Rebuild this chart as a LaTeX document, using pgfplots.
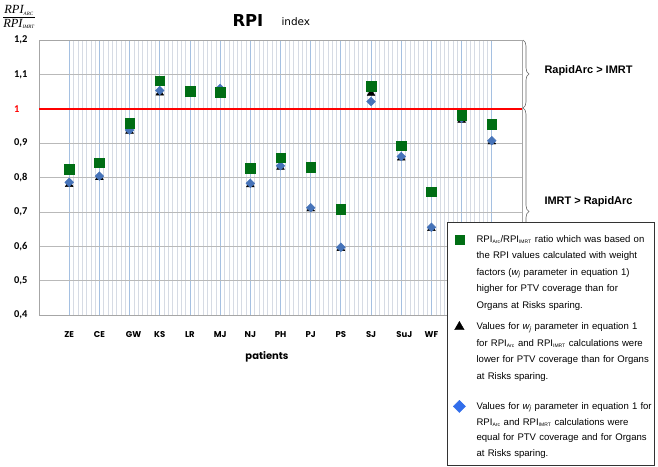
\documentclass[border=0pt]{standalone}
\usepackage{pgfplots}
\pgfplotsset{compat=1.18}
\usepackage{fontspec}
\setmainfont{Liberation Sans}
\newfontfamily\calib{Carlito}
\newfontfamily\gothic{Poppins}
\newfontfamily\tnr{Liberation Serif}
\newfontfamily\dejavu{DejaVu Sans}
\usetikzlibrary{decorations.pathreplacing}
\definecolor{sqgreen}{RGB}{0,110,20}
\definecolor{diablue}{RGB}{70,115,185}
\definecolor{legblue}{RGB}{50,110,235}
\definecolor{majgrid}{RGB}{165,192,225}
\definecolor{mingrid}{RGB}{214,219,228}
\definecolor{hgrid}{RGB}{185,185,185}
\newcommand{\sub}[1]{\textsubscript{\fontsize{5}{5}\selectfont #1}}
\newcommand{\wj}{\textit{w\textsubscript{j}}}
\newcommand{\st}[1]{\rule{0pt}{#1bp}}

\pgfplotstableread{
x  sq     tri    dia
1  0.825  0.780  0.786
2  0.843  0.800  0.804
3  0.958  0.935  0.938
4  1.082  1.046  1.053
5  1.051  1.045  1.049
6  1.049  1.056  1.059
7  0.827  0.779  0.783
8  0.858  0.830  0.834
9  0.830  0.709  0.712
10 0.707  0.594  0.597
11 1.066  1.045  1.021
12 0.892  0.857  0.861
13 0.759  0.652  0.655
14 0.982  0.967  0.972
15 0.955  0.904  0.907
}\rpidata

\begin{document}
\begin{tikzpicture}
\useasboundingbox (0,0) rectangle (658bp,467bp);
% braces and side texts
\draw[decorate, decoration={brace, amplitude=6bp}, black!60, line width=0.6bp] (523bp,427bp) -- (523bp,359bp);
\draw[decorate, decoration={brace, amplitude=6bp}, black!60, line width=0.6bp] (523bp,359bp) -- (523bp,152bp);
\node[anchor=west, font=\bfseries\fontsize{11}{13}\selectfont] at (541bp,396bp) {RapidArc > IMRT};
\node[anchor=west, font=\bfseries\fontsize{11}{13}\selectfont] at (541bp,265bp) {IMRT > RapidArc};
% title
\node[anchor=base west, font=\dejavu\bfseries\fontsize{16.5}{18}\selectfont] at (229bp,440bp) {RPI};
\node[anchor=base west, font=\dejavu\fontsize{10.5}{12}\selectfont] at (278bp,441bp) {index};
% y label
\node at (19bp,450bp) {$\displaystyle\frac{\hbox{\tnr\itshape\fontsize{12.5}{13}\selectfont RPI\sub{ARC}}}{\hbox{\tnr\itshape\fontsize{12.5}{13}\selectfont RPI\sub{IMRT}}}$};

\begin{axis}[
  at={(39bp,152bp)}, anchor=south west,
  scale only axis, width=483bp, height=275bp,
  xmin=0, xmax=16, ymin=0.4, ymax=1.2,
  xtick={1,...,15},
  xticklabels={ZE,CE,{\hspace*{8bp}GW},KS,LR,MJ,NJ,PH,PJ,PS,SJ,{\hspace*{6bp}SuJ},WF,{},{}},
  minor x tick num=6,
  ytick={0.4,0.5,0.6,0.7,0.8,0.9,1.0,1.1,1.2},
  yticklabels={{0,4},{0,5},{0,6},{0,7},{0,8},{0,9},{\textcolor{red}{1}\hphantom{,0}},{1,1},{1,2}},
  major tick length=0pt, minor tick length=0pt,
  xmajorgrids, xminorgrids, ymajorgrids,
  major x grid style={majgrid, line width=0.8bp},
  minor x grid style={mingrid, line width=0.5bp},
  major y grid style={hgrid, line width=0.6bp},
  axis line style={black!35, line width=0.6bp},
  xticklabel style={font=\gothic\bfseries\fontsize{8.5}{10}\selectfont, yshift=-13bp},
  yticklabel style={font=\calib\bfseries\fontsize{10.5}{12}\selectfont, xshift=-8bp},
  xlabel={patients},
  xlabel style={font=\gothic\bfseries\fontsize{10}{12}\selectfont, at={(axis description cs:0.472,0)}, anchor=center, yshift=-42bp},
  legend style={at={(axis description cs:0.8447,0.338)}, anchor=north west,
    draw=black!80, fill=white, inner xsep=1bp, inner ysep=9bp,
    row sep=0bp, column sep=11bp, cells={anchor=base west},
    nodes={inner xsep=0bp, inner ysep=0bp, text depth=0bp, text width=177bp, align=left},
    font=\fontsize{9.6}{11}\selectfont},
  legend image code/.code={\path (-11bp,3bp) (6bp,3bp); \draw[#1] plot coordinates {(0bp,3bp)};},
]
\addplot[red, line width=2bp, forget plot] coordinates {(0,1) (16,1)};
\addplot[only marks, mark=triangle*, mark size=4.5bp, black, forget plot] table[x=x, y=tri] {\rpidata};
\addplot[only marks, mark=square*, mark size=3.1bp, mark options={rotate=45}, diablue, forget plot] table[x=x, y=dia] {\rpidata};
\addplot[only marks, mark=square*, mark size=4.8bp, sqgreen, forget plot] table[x=x, y=sq] {\rpidata};

\addlegendimage{only marks, mark=square*, mark size=4.5bp, sqgreen}
\addlegendentry{\st{11}RPI\sub{Arc}/RPI\sub{IMRT} ratio which was based on}
\addlegendimage{empty legend}
\addlegendentry{\st{15}the RPI values calculated with weight}
\addlegendimage{empty legend}
\addlegendentry{\st{16.5}factors (\wj\ parameter in equation 1)}
\addlegendimage{empty legend}
\addlegendentry{\st{16.5}higher for PTV coverage than for}
\addlegendimage{empty legend}
\addlegendentry{\st{16.5}Organs at Risks sparing.}
\addlegendimage{only marks, mark=triangle*, mark size=5.5bp, black}
\addlegendentry{\st{21.7}Values for \wj\ parameter in equation 1}
\addlegendimage{empty legend}
\addlegendentry{\st{16.5}for RPI\sub{Arc} and RPI\sub{IMRT} calculations were}
\addlegendimage{empty legend}
\addlegendentry{\st{16.5}lower for PTV coverage than for Organs}
\addlegendimage{empty legend}
\addlegendentry{\st{16.5}at Risks sparing.}
\addlegendimage{only marks, mark=square*, mark size=4.3bp, mark options={rotate=45}, legblue}
\addlegendentry{\st{30}Values for \wj\ parameter in equation 1 for}
\addlegendimage{empty legend}
\addlegendentry{\st{12.5}RPI\sub{Arc} and RPI\sub{IMRT} calculations were}
\addlegendimage{empty legend}
\addlegendentry{\st{15.5}equal for PTV coverage and for Organs}
\addlegendimage{empty legend}
\addlegendentry{\st{15.5}at Risks sparing.}
\end{axis}
\end{tikzpicture}
\end{document}
